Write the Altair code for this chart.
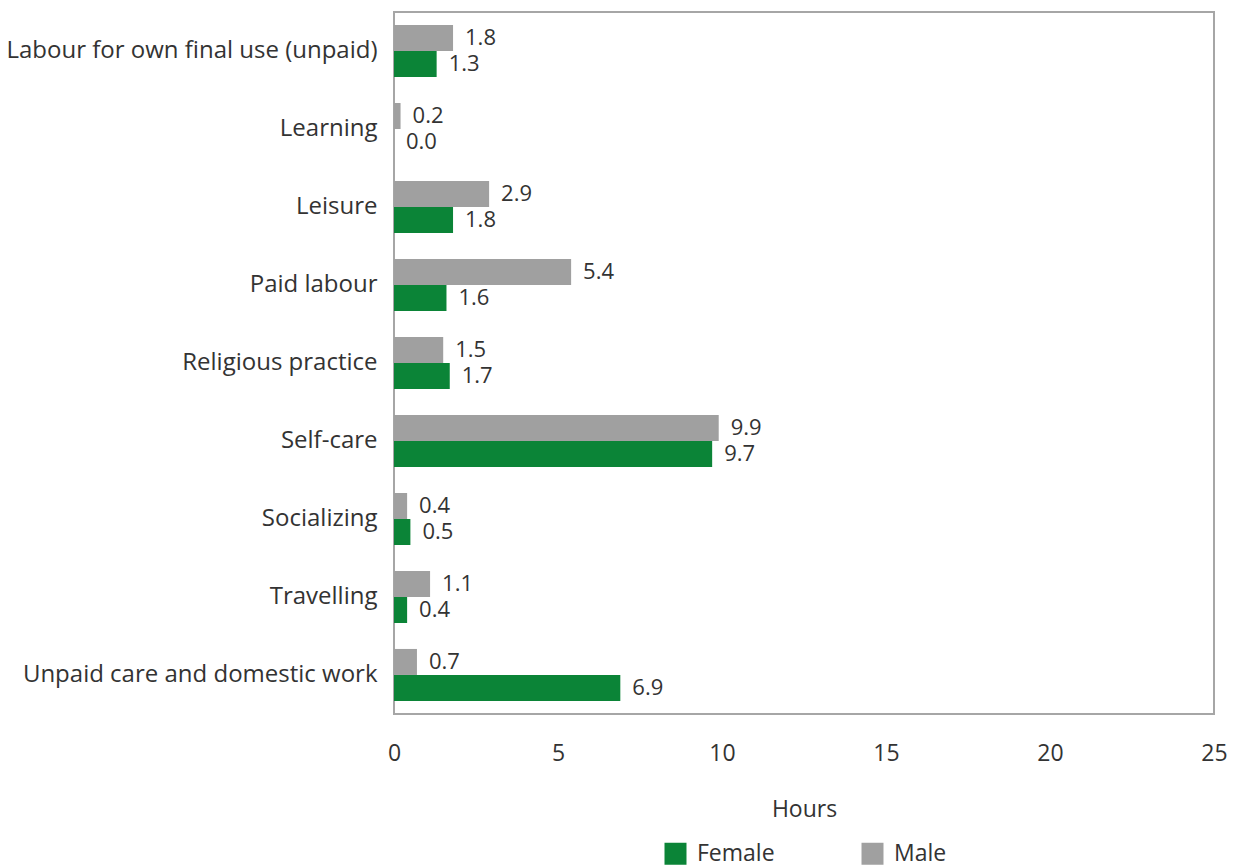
import altair as alt
import pandas as pd

categories = ["Labour for own final use (unpaid)", "Learning", "Leisure", "Paid labour",
              "Religious practice", "Self-care", "Socializing", "Travelling",
              "Unpaid care and domestic work"]
male = [1.8, 0.2, 2.9, 5.4, 1.5, 9.9, 0.4, 1.1, 0.7]
female = [1.3, 0.0, 1.8, 1.6, 1.7, 9.7, 0.5, 0.4, 6.9]
x_ticks = [0, 5, 10, 15, 20, 25]

rows = []
for c, m, f in zip(categories, male, female):
    rows.append({"cat": c, "sex": "Male", "hours": m})
    rows.append({"cat": c, "sex": "Female", "hours": f})
df = pd.DataFrame(rows)

FONT = "Open Sans"
GREEN = "#0b8437"
GRAY = "#a0a0a0"
TXT = "#333333"

y = alt.Y("cat:N", sort=categories, title=None,
          scale=alt.Scale(paddingInner=0.333, paddingOuter=0.167),
          axis=alt.Axis(labelFontSize=24, labelColor=TXT, labelFont=FONT,
                        labelPadding=17, ticks=False, domain=False, labelLimit=450))
x = alt.X("hours:Q", title="Hours",
          scale=alt.Scale(domain=[0, 25], nice=False),
          axis=alt.Axis(values=x_ticks, labelFontSize=23, labelColor=TXT,
                        labelFont=FONT, labelPadding=28, ticks=False, domain=False,
                        labelFlush=False, grid=False, titleFontSize=23, titleColor=TXT,
                        titleFont=FONT, titleFontWeight="normal", titlePadding=33))
yoff = alt.YOffset("sex:N", sort=["Male", "Female"])

bars = alt.Chart(df).mark_bar().encode(
    y=y, x=x, yOffset=yoff,
    color=alt.Color("sex:N", sort=["Female", "Male"],
                    scale=alt.Scale(domain=["Female", "Male"], range=[GREEN, GRAY]),
                    legend=alt.Legend(title=None, orient="none", direction="horizontal",
                                      legendX=270, legendY=830, symbolType="square",
                                      symbolSize=484, symbolStrokeWidth=0,
                                      labelFontSize=23, labelFont=FONT,
                                      labelColor=TXT, labelOffset=10,
                                      columnPadding=86))
)
labels = alt.Chart(df).mark_text(align="left", baseline="middle", dx=12,
                                 fontSize=22, font=FONT, color=TXT).encode(
    y=y, x=x, yOffset=yoff,
    text=alt.Text("hours:Q", format=".1f")
)

chart = (bars + labels).properties(
    width=820, height=702,
    autosize=alt.AutoSizeParams(type="none"),
    padding={"left": 386, "top": 4, "right": 13, "bottom": 153},
).configure(background="white").configure_view(stroke="#a6a6a6", strokeWidth=2)

chart.save("out.html", embed_options={"renderer": "svg", "actions": False})
